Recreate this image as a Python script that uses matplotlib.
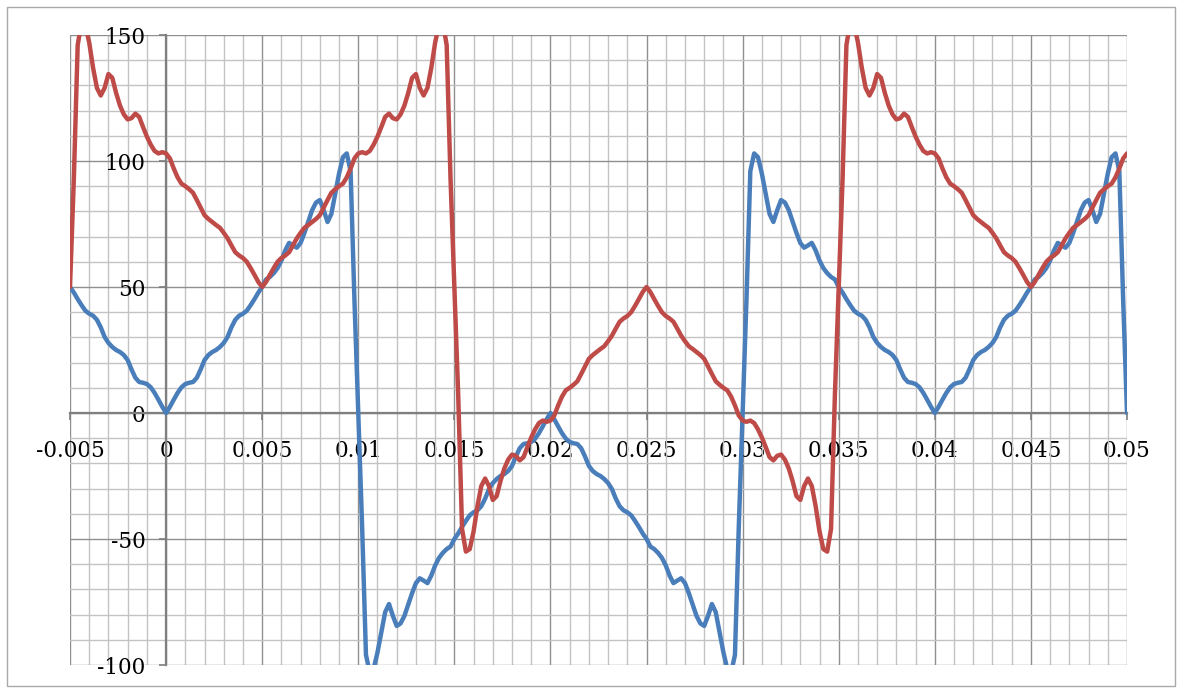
import numpy as np
import matplotlib
matplotlib.use("Agg")
import matplotlib.pyplot as plt
from matplotlib.patches import Rectangle
from matplotlib.ticker import FixedLocator, MultipleLocator

# ---- data ----
x_start, x_stop, x_step = -0.005, 0.05, 0.0002
x = np.round(np.arange(x_start, x_stop + x_step / 2, x_step), 5)

blue = [
    50, 47.8, 45.2, 42.8, 40.6, 39.4, 38.6, 37, 34, 30.2, 27.8, 26.2, 25, 24.2, 23, 21, 17.3, 14, 12.3, 12,
    11.5, 10.2, 8, 5.3, 2.5, 0,
    2.5, 5.3, 8, 10.2, 11.5, 12, 12.3, 14, 17.3, 21, 23, 24.2, 25, 26.2, 27.8, 30.2, 34, 37, 38.6, 39.4,
    40.6, 42.8, 45.2, 47.8, 50, 53, 54, 55.5, 57.5, 60.5, 64.5, 67.5, 66.5, 65.6, 67.5, 71.5, 76, 80.5,
    83.5, 84.5, 80.5, 75.8, 79, 87, 95, 101.5, 103, 96, 45, 0,
    -45, -96, -103, -101.5, -95, -87, -79, -75.8, -80.5, -84.5, -83.5, -80.5, -76, -71.5, -67.5, -65.6,
    -66.5, -67.5, -64.5, -60.5, -57.5, -55.5, -54, -53, -50, -47.8, -45.2, -42.8, -40.6, -39.4, -38.6, -37,
    -34, -30.2, -27.8, -26.2, -25, -24.2, -23, -21, -17.3, -14, -12.3, -12, -11.5, -10.2, -8, -5.3, -2.5, 0,
    -2.5, -5.3, -8, -10.2, -11.5, -12, -12.3, -14, -17.3, -21, -23, -24.2, -25, -26.2, -27.8, -30.2, -34,
    -37, -38.6, -39.4, -40.6, -42.8, -45.2, -47.8, -50, -53, -54, -55.5, -57.5, -60.5, -64.5, -67.5, -66.5,
    -65.6, -67.5, -71.5, -76, -80.5, -83.5, -84.5, -80.5, -75.8, -79, -87, -95, -101.5, -103, -96, -45, 0,
    45, 96, 103, 101.5, 95, 87, 79, 75.8, 80.5, 84.5, 83.5, 80.5, 76, 71.5, 67.5, 65.6, 66.5, 67.5, 64.5,
    60.5, 57.5, 55.5, 54, 53, 50, 47.8, 45.2, 42.8, 40.6, 39.4, 38.6, 37, 34, 30.2, 27.8, 26.2, 25, 24.2,
    23, 21, 17.3, 14, 12.3, 12, 11.5, 10.2, 8, 5.3, 2.5, 0,
    2.5, 5.3, 8, 10.2, 11.5, 12, 12.3, 14, 17.3, 21, 23, 24.2, 25, 26.2, 27.8, 30.2, 34, 37, 38.6, 39.4,
    40.6, 42.8, 45.2, 47.8, 50, 53, 54, 55.5, 57.5, 60.5, 64.5, 67.5, 66.5, 65.6, 67.5, 71.5, 76, 80.5,
    83.5, 84.5, 80.5, 75.8, 79, 87, 95, 101.5, 103, 96, 45, 0,
]

red = [
    50, 93, 146, 155, 154, 147, 137, 129, 126, 129, 134.5, 133, 127, 122, 118.5, 116.5, 117, 118.8, 117.5,
    113.5, 109.7, 106.5, 104, 103, 103.5, 103, 101, 97, 93.5, 91, 90, 88.8, 87.4, 84.5, 81.5, 78.5, 77,
    75.8, 74.6, 73.5, 71.5, 69.3, 66.5, 63.8, 62.5, 61.5, 60, 57.5, 54.8, 52, 50,
    52, 54.8, 57.5, 60, 61.5, 62.5, 63.8, 66.5, 69.3, 71.5, 73.5, 74.6, 75.8, 77, 78.5, 81.5, 84.5, 87.4,
    88.8, 90, 91, 93.5, 97, 101, 103, 103.5, 103, 104, 106.5, 109.7, 113.5, 117.5, 118.8, 117, 116.5,
    118.5, 122, 127, 133, 134.5, 129, 126, 129, 137, 147, 154, 155, 146, 93, 50,
    7, -46, -55, -54, -47, -37, -29, -26, -29, -34.5, -33, -27, -22, -18.5, -16.5, -17, -18.8, -17.5,
    -13.5, -9.7, -6.5, -4, -3, -3.5, -3, -1, 3, 6.5, 9, 10, 11.2, 12.6, 15.5, 18.5, 21.5, 23, 24.2, 25.4,
    26.5, 28.5, 30.7, 33.5, 36.2, 37.5, 38.5, 40, 42.5, 45.2, 48, 50,
    48, 45.2, 42.5, 40, 38.5, 37.5, 36.2, 33.5, 30.7, 28.5, 26.5, 25.4, 24.2, 23, 21.5, 18.5, 15.5, 12.6,
    11.2, 10, 9, 6.5, 3, -1, -3, -3.5, -3, -4, -6.5, -9.7, -13.5, -17.5, -18.8, -17, -16.5, -18.5, -22,
    -27, -33, -34.5, -29, -26, -29, -37, -47, -54, -55, -46, 7, 50,
    93, 146, 155, 154, 147, 137, 129, 126, 129, 134.5, 133, 127, 122, 118.5, 116.5, 117, 118.8, 117.5,
    113.5, 109.7, 106.5, 104, 103, 103.5, 103, 101, 97, 93.5, 91, 90, 88.8, 87.4, 84.5, 81.5, 78.5, 77,
    75.8, 74.6, 73.5, 71.5, 69.3, 66.5, 63.8, 62.5, 61.5, 60, 57.5, 54.8, 52, 50,
    52, 54.8, 57.5, 60, 61.5, 62.5, 63.8, 66.5, 69.3, 71.5, 73.5, 74.6, 75.8, 77, 78.5, 81.5, 84.5, 87.4,
    88.8, 90, 91, 93.5, 97, 101, 103,
]

x_ticks = [-0.005, 0, 0.005, 0.01, 0.015, 0.02, 0.025, 0.03, 0.035, 0.04, 0.045, 0.05]
x_labels = ["-0.005", "0", "0.005", "0.01", "0.015", "0.02", "0.025", "0.03", "0.035", "0.04", "0.045", "0.05"]
y_ticks = [-100, -50, 0, 50, 100, 150]
y_labels = ["-100", "-50", "0", "50", "100", "150"]

# ---- figure ----
W, H = 1177, 688
fig = plt.figure(figsize=(W / 100, H / 100), dpi=100)
fig.patch.set_facecolor("white")
ax = fig.add_axes([70 / W, 1 - 665 / H, (1127 - 70) / W, (665 - 35) / H])

ax.plot(x, blue, color="#4a7ebb", lw=3.2, zorder=4, solid_joinstyle="round", solid_capstyle="round")
ax.plot(x, red, color="#be4b48", lw=3.2, zorder=4, solid_joinstyle="round", solid_capstyle="round")

ax.set_xlim(-0.005, 0.05)
ax.set_ylim(-100, 150)

ax.xaxis.set_major_locator(FixedLocator(x_ticks))
ax.set_xticklabels(x_labels)
ax.xaxis.set_minor_locator(MultipleLocator(0.001))
ax.yaxis.set_major_locator(FixedLocator(y_ticks))
ax.set_yticklabels(y_labels)
ax.yaxis.set_minor_locator(MultipleLocator(10))

ax.set_axisbelow(True)
ax.grid(which="minor", color="#c3c3c3", lw=1.0)
ax.grid(which="major", color="#8f8f8f", lw=1.0)

for s in ["top", "right"]:
    ax.spines[s].set_visible(False)
ax.spines["left"].set_position(("data", 0))
ax.spines["bottom"].set_position(("data", 0))
for s in ["left", "bottom"]:
    ax.spines[s].set_color("#7f7f7f")
    ax.spines[s].set_linewidth(1.6)
    ax.spines[s].set_zorder(3)

ax.tick_params(which="minor", length=0)
ax.tick_params(axis="x", which="major", length=5, width=1.2, color="#7f7f7f", pad=14.5, direction="out")
ax.tick_params(axis="y", which="major", length=5, width=1.2, color="#7f7f7f", pad=10, direction="out")
for t in ax.get_xticklabels() + ax.get_yticklabels():
    t.set_fontfamily("DejaVu Serif")
    t.set_fontsize(15.5)
    t.set_color("black")

# outer chart border
fig.patches.append(Rectangle((7 / W, 1 - 686 / H), (1175 - 7) / W, (686 - 7) / H,
                             transform=fig.transFigure, fill=False, ec="#a9a9a9", lw=1.0))

fig.savefig("out.png", dpi=100, facecolor="white")
